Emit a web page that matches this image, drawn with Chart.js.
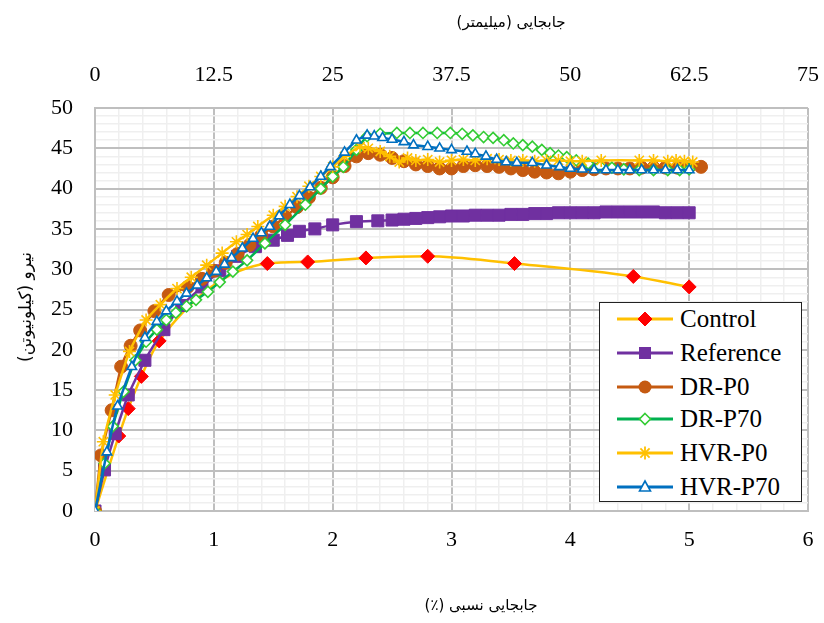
<!DOCTYPE html>
<html><head><meta charset="utf-8">
<script src="https://cdn.jsdelivr.net/npm/chart.js@4"></script>
<style>
html,body{margin:0;padding:0;background:#fff;}
#wrap{position:relative;width:824px;height:623px;overflow:hidden;}
#c{position:absolute;left:0;top:0;}
.ttl{position:absolute;font-family:'DejaVu Sans',sans-serif;font-size:15px;color:#000;white-space:nowrap;transform:translate(-50%,-50%);}
#ytl{font-size:17px;transform:translate(-50%,-50%) rotate(-90deg);}
#legend{position:absolute;left:599px;top:302px;width:203px;height:200px;border:1.5px solid #222;background:#fff;box-sizing:border-box;}
.row{position:absolute;left:0;height:30px;width:200px;}
.row svg{position:absolute;left:17px;top:0;}
.row span{position:absolute;left:80px;top:0;line-height:30px;font-family:'Liberation Serif',serif;font-size:25px;color:#000;}
</style>
</head><body>
<div id="wrap">
<canvas id="c" width="824" height="623"></canvas>
<div class="ttl" id="ttop" style="left:511px;top:22px;" dir="rtl"></div>
<div class="ttl" id="tbot" style="left:481px;top:605px;" dir="rtl"></div>
<div class="ttl" id="ytl" style="left:25px;top:307px;" dir="rtl"></div>
<div id="legend"></div>
</div>
<script>
// ---- data ----
const xTicksPercent = [0,1,2,3,4,5,6];
const xTicksMm = [0,12.5,25,37.5,50,62.5,75];
const seriesNames = ['Control','Reference','DR-P0','DR-P70','HVR-P0','HVR-P70'];

const controlX = [0, 0.20, 0.28, 0.39, 0.54, 1.45, 1.79, 2.28, 2.80, 3.53, 4.53, 5.00];
const controlY = [0, 9.3, 12.7, 16.7, 21.1, 30.7, 30.9, 31.4, 31.6, 30.7, 29.1, 27.8];

const referenceX = [0, 0.08, 0.17, 0.28, 0.42, 0.58, 0.73, 0.90, 1.05, 1.20, 1.35, 1.50, 1.62, 1.72, 1.85, 2.00, 2.20, 2.38, 2.50, 2.60, 2.70, 2.80, 2.90, 3.00, 3.10, 3.20, 3.30, 3.40, 3.50, 3.60, 3.70, 3.80, 3.90, 4.00, 4.10, 4.20, 4.30, 4.40, 4.50, 4.60, 4.70, 4.80, 4.90, 5.00];
const referenceY = [0, 5.1, 9.6, 14.4, 18.7, 22.5, 25.5, 27.8, 29.8, 31.6, 32.8, 33.6, 34.2, 34.7, 35.0, 35.5, 35.9, 36.0, 36.1, 36.2, 36.3, 36.4, 36.5, 36.6, 36.6, 36.7, 36.7, 36.7, 36.8, 36.8, 36.9, 36.9, 37.0, 37.0, 37.0, 37.0, 37.1, 37.1, 37.1, 37.1, 37.1, 37.0, 37.0, 37.0];

const drP0X = [0, 0.05, 0.14, 0.22, 0.30, 0.38, 0.50, 0.62, 0.78, 0.90, 1.00, 1.10, 1.20, 1.30, 1.40, 1.50, 1.60, 1.70, 1.80, 1.90, 2.00, 2.10, 2.20, 2.30, 2.40, 2.50, 2.60, 2.70, 2.80, 2.90, 3.00, 3.10, 3.20, 3.30, 3.40, 3.50, 3.60, 3.70, 3.80, 3.90, 4.00, 4.10, 4.20, 4.30, 4.40, 4.50, 4.60, 4.70, 4.80, 4.90, 5.00, 5.10];
const drP0Y = [0, 6.9, 12.5, 17.9, 20.5, 22.4, 24.8, 26.8, 27.8, 28.8, 29.8, 30.8, 31.9, 33.0, 34.2, 35.3, 36.5, 37.7, 38.9, 40.1, 41.4, 42.8, 44.0, 44.4, 44.2, 43.8, 43.4, 43.0, 42.8, 42.5, 42.5, 42.8, 42.9, 42.8, 42.7, 42.5, 42.3, 42.1, 42.0, 41.9, 42.1, 42.3, 42.4, 42.5, 42.5, 42.5, 42.6, 42.6, 42.6, 42.6, 42.7, 42.7];

const drP70X = [0, 0.08, 0.15, 0.24, 0.34, 0.43, 0.52, 0.60, 0.68, 0.77, 0.85, 0.95, 1.05, 1.16, 1.28, 1.43, 1.60, 1.77, 1.90, 2.00, 2.09, 2.20, 2.29, 2.40, 2.54, 2.65, 2.76, 2.88, 2.99, 3.09, 3.18, 3.27, 3.35, 3.44, 3.52, 3.60, 3.68, 3.76, 3.83, 3.90, 3.97, 4.05, 4.15, 4.25, 4.35, 4.45, 4.58, 4.70, 4.82, 4.92, 5.00];
const drP70Y = [0, 5.9, 10.5, 14.8, 18.7, 21.0, 22.5, 23.7, 24.6, 25.4, 26.2, 27.2, 28.4, 29.7, 31.1, 33.2, 35.5, 38.0, 40.0, 41.5, 42.7, 44.8, 46.5, 46.8, 46.9, 46.9, 46.9, 46.9, 46.9, 46.8, 46.6, 46.4, 46.3, 46.0, 45.6, 45.4, 45.2, 44.8, 44.4, 44.1, 43.9, 43.5, 43.1, 42.8, 42.6, 42.4, 42.3, 42.3, 42.3, 42.3, 42.4];

const hvrP0X = [0, 0.07, 0.17, 0.29, 0.43, 0.55, 0.69, 0.81, 0.94, 1.07, 1.19, 1.28, 1.37, 1.50, 1.60, 1.70, 1.80, 1.90, 2.00, 2.10, 2.23, 2.30, 2.40, 2.48, 2.56, 2.63, 2.70, 2.80, 2.90, 3.00, 3.10, 3.20, 3.30, 3.40, 3.50, 3.60, 3.70, 3.80, 3.90, 4.00, 4.10, 4.26, 4.58, 4.70, 4.82, 4.89, 4.96, 5.03];
const hvrP0Y = [0, 8.6, 14.4, 19.8, 23.7, 25.6, 27.6, 29.0, 30.5, 32.0, 33.4, 34.3, 35.3, 36.7, 37.8, 39.0, 40.3, 41.5, 42.7, 44.0, 45.2, 45.0, 44.6, 44.0, 43.3, 43.8, 43.5, 43.6, 43.3, 43.5, 43.6, 43.5, 43.7, 43.6, 43.5, 43.5, 43.4, 43.5, 43.5, 43.4, 43.4, 43.5, 43.5, 43.5, 43.4, 43.5, 43.4, 43.3];

const hvrP70X = [0, 0.10, 0.19, 0.31, 0.42, 0.52, 0.60, 0.69, 0.77, 0.86, 0.94, 1.02, 1.09, 1.15, 1.24, 1.33, 1.40, 1.47, 1.55, 1.64, 1.72, 1.81, 1.90, 1.98, 2.10, 2.20, 2.29, 2.35, 2.42, 2.50, 2.60, 2.68, 2.80, 2.90, 3.00, 3.13, 3.20, 3.29, 3.38, 3.46, 3.55, 3.68, 3.80, 3.91, 4.00, 4.10, 4.20, 4.30, 4.40, 4.50, 4.60, 4.70, 4.80, 4.90, 5.00];
const hvrP70Y = [0, 7.3, 13.0, 17.9, 21.5, 23.5, 24.8, 26.0, 27.0, 28.0, 28.9, 29.7, 30.6, 31.4, 32.6, 33.8, 34.5, 35.3, 36.6, 38.0, 39.1, 40.2, 41.5, 42.7, 44.5, 46.0, 46.6, 46.5, 46.3, 46.1, 45.8, 45.4, 45.2, 45.0, 44.8, 44.6, 44.3, 44.0, 43.6, 43.3, 43.2, 43.2, 42.9, 42.7, 42.5, 42.4, 42.3, 42.3, 42.3, 42.3, 42.3, 42.3, 42.3, 42.3, 42.3];

const titleTop = 'جابجایی (میلیمتر)';
const titleBottom = 'جابجایی نسبی (٪)';
const titleY = 'نیرو (کیلونیوتن)';

// ---- styles ----
const styles = [
  {line:'#FFC000', pt:'rectRot', r:7, fill:'#FF0000', stroke:'#FF0000', bw:1, interp:'monotone', tension:0},
  {line:'#7030A0', pt:'rect', r:8.5, fill:'#7030A0', stroke:'#7030A0', bw:1, interp:'default', tension:0.15},
  {line:'#C55A11', pt:'circle', r:6.5, fill:'#C55A11', stroke:'#C55A11', bw:1, interp:'default', tension:0.15},
  {line:'#00B050', pt:'rectRot', r:5.5, fill:'#FFFFFF', stroke:'#33CC33', bw:1.6, interp:'default', tension:0.15},
  {line:'#FFC000', pt:'star', r:6.5, fill:'#FFC000', stroke:'#FFC000', bw:1.6, interp:'default', tension:0.15},
  {line:'#0070C0', pt:'triangle', r:5.5, fill:'#FFFFFF', stroke:'#0070C0', bw:1.6, interp:'default', tension:0.15}
];
const xs = [controlX, referenceX, drP0X, drP70X, hvrP0X, hvrP70X];
const ys = [controlY, referenceY, drP0Y, drP70Y, hvrP0Y, hvrP70Y];

const datasets = seriesNames.map((name, i) => ({
  label: name,
  data: xs[i].map((x, k) => ({x, y: ys[i][k]})),
  showLine: true,
  borderColor: styles[i].line,
  borderWidth: 2.5,
  tension: styles[i].tension,
  cubicInterpolationMode: styles[i].interp,
  pointStyle: styles[i].pt,
  pointRadius: styles[i].r,
  pointHoverRadius: styles[i].r,
  pointBackgroundColor: styles[i].fill,
  pointBorderColor: styles[i].stroke,
  pointBorderWidth: styles[i].bw,
  order: 6 - i
}));

const near = (v, m) => Math.abs(v / m - Math.round(v / m)) < 1e-6;
const MAJOR = '#BFBFBF', MINOR = '#EFEFEF';
const tickFont = {family:"'Liberation Serif', serif", size:22};
const noPadH = s => { s.paddingLeft = 0; s.paddingRight = 0; };
const noPadV = s => { s.paddingTop = 0; s.paddingBottom = 0; };

new Chart(document.getElementById('c'), {
  type: 'scatter',
  data: {datasets},
  options: {
    responsive: false,
    animation: false,
    devicePixelRatio: 1,
    layout: {padding: {left:0, right:16, top:0, bottom:0}},
    plugins: {legend: {display:false}, tooltip: {enabled:false}},
    scales: {
      x: {
        type:'linear', position:'bottom', min:0, max:6,
        afterFit: s => { s.height = 112; noPadH(s); },
        ticks: {stepSize:0.2, autoSkip:false, maxRotation:0, maxTicksLimit:100, padding:16, font:tickFont, color:'#000',
          callback: v => near(v,1) && xTicksPercent.includes(Math.round(v)) ? String(Math.round(v)) : ''},
        grid: {drawTicks:false, color: c => near(c.tick.value,1) ? MAJOR : MINOR, lineWidth: c => near(c.tick.value,1) ? 2 : 1.5},
        border: {display:true, color:MAJOR, width:2}
      },
      x2: {
        type:'linear', position:'top', min:0, max:75,
        afterFit: s => { s.height = 108; noPadH(s); },
        ticks: {stepSize:12.5, autoSkip:false, maxRotation:0, padding:20, font:tickFont, color:'#000',
          callback: v => xTicksMm.includes(v) ? String(v) : ''},
        grid: {display:false, drawTicks:false},
        border: {display:false}
      },
      y: {
        type:'linear', position:'left', min:0, max:50,
        afterFit: s => { s.width = 95; noPadV(s); },
        ticks: {stepSize:1, autoSkip:false, maxTicksLimit:100, padding:22, font:tickFont, color:'#000',
          callback: v => near(v,5) ? String(Math.round(v)) : ''},
        grid: {drawTicks:false, color: c => near(c.tick.value,5) ? MAJOR : MINOR, lineWidth: c => near(c.tick.value,5) ? 2 : 1.5},
        border: {display:true, color:MAJOR, width:2}
      }
    }
  }
});

// titles
document.getElementById('ttop').textContent = titleTop;
document.getElementById('tbot').textContent = titleBottom;
document.getElementById('ytl').textContent = titleY;

// legend built from series names/styles
function icon(s) {
  const c = 28, y = 15;
  let m = '';
  if (s.pt === 'rectRot') { const r = s.r; m = `<polygon points="${c},${y-r} ${c+r},${y} ${c},${y+r} ${c-r},${y}" fill="${s.fill}" stroke="${s.stroke}" stroke-width="${s.bw}"/>`; }
  else if (s.pt === 'rect') { m = `<rect x="${c-6}" y="${y-6}" width="12" height="12" fill="${s.fill}"/>`; }
  else if (s.pt === 'circle') { m = `<circle cx="${c}" cy="${y}" r="${s.r}" fill="${s.fill}"/>`; }
  else if (s.pt === 'star') { const r = s.r, d = r*0.707;
    m = `<g stroke="${s.stroke}" stroke-width="1.8"><line x1="${c-r}" y1="${y}" x2="${c+r}" y2="${y}"/><line x1="${c}" y1="${y-r}" x2="${c}" y2="${y+r}"/><line x1="${c-d}" y1="${y-d}" x2="${c+d}" y2="${y+d}"/><line x1="${c-d}" y1="${y+d}" x2="${c+d}" y2="${y-d}"/></g>`; }
  else if (s.pt === 'triangle') { m = `<polygon points="${c},${y-6} ${c+5.5},${y+4} ${c-5.5},${y+4}" fill="${s.fill}" stroke="${s.stroke}" stroke-width="1.6"/>`; }
  return `<svg width="58" height="30"><line x1="0" y1="${y}" x2="56" y2="${y}" stroke="${s.line}" stroke-width="3"/>${m}</svg>`;
}
const rowTops = [1, 35, 69, 101, 135, 169];
const lg = document.getElementById('legend');
seriesNames.forEach((n, i) => {
  const d = document.createElement('div');
  d.className = 'row';
  d.style.top = rowTops[i] + 'px';
  d.innerHTML = icon(styles[i]) + '<span></span>';
  d.querySelector('span').textContent = n;
  lg.appendChild(d);
});
</script>
</body></html>
